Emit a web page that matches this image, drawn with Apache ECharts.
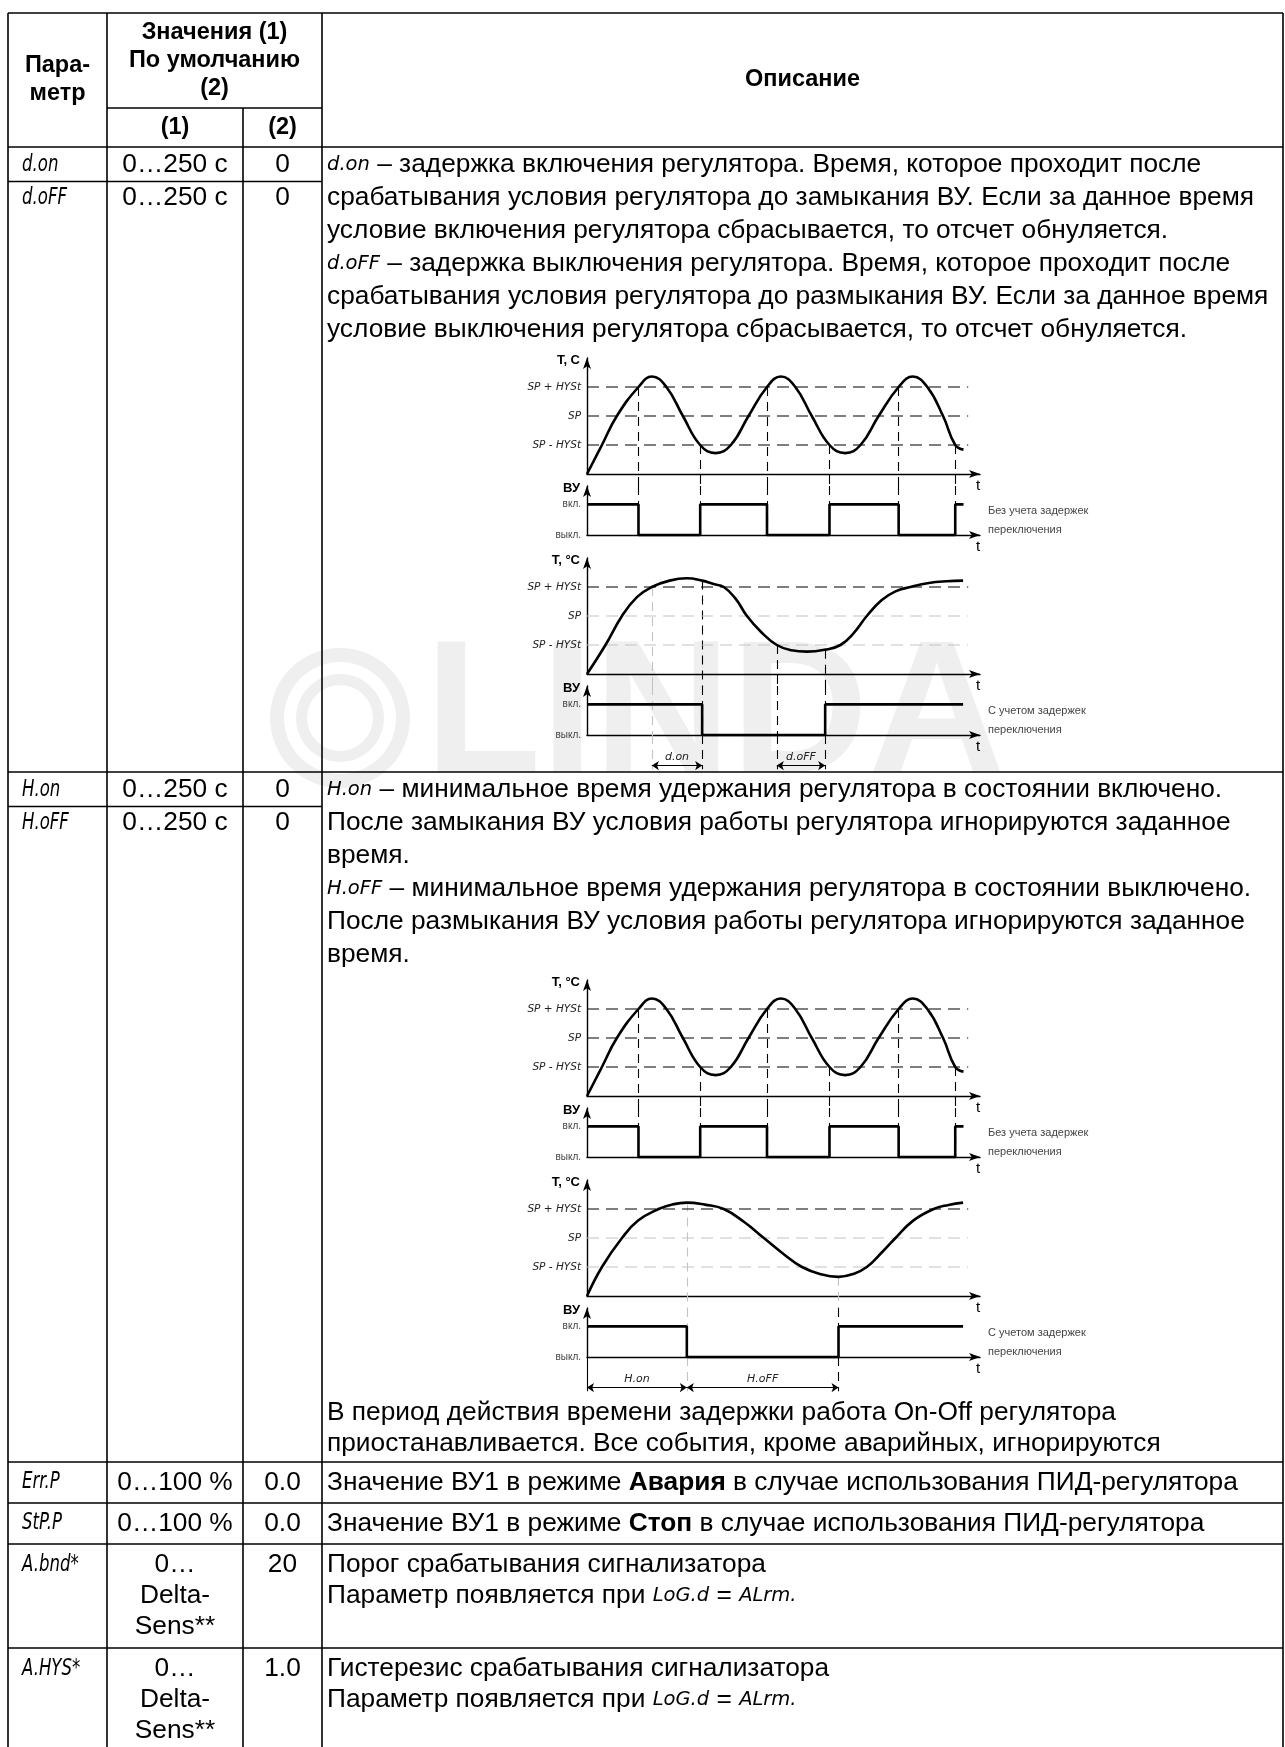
<!DOCTYPE html>
<html>
<head>
<meta charset="utf-8">
<title>d.on / d.oFF / H.on / H.oFF</title>
<script src="https://cdn.jsdelivr.net/npm/echarts@6.0.0/dist/echarts.min.js"></script>
<style>
html, body { margin: 0; padding: 0; background: #fff; }
#chart { width: 1285px; height: 1747px; }
</style>
</head>
<body>
<div id="chart"></div>
<script>
// ---- values ----
// temperature axis: 0 = t axis, 1 = SP-HYSt, 2 = SP, 3 = SP+HYSt ; time axis 0..100
var levelNames = {1: 'SP - HYSt', 2: 'SP', 3: 'SP + HYSt'};
var relayNames = {0: 'выкл.', 1: 'вкл.'};

// without switching delays (upper part of both pictures)
var tempFree = [[0, 0], [3.8, 1], [7.6, 2], [13.1, 3], [16.5, 3.36], [20.2, 3], [24.4, 2], [28.8, 1], [32.7, 0.72],
    [36.6, 1], [41.1, 2], [45.8, 3], [49.3, 3.36], [53, 3], [57.2, 2], [61.7, 1], [65.7, 0.72], [69.6, 1],
    [74.2, 2], [79.3, 3], [82.9, 3.36], [86.6, 3], [90.6, 2], [93.7, 1], [95.8, 0.84]];
var crossFree = [[13.1, 3], [28.8, 1], [45.8, 3], [61.7, 1], [79.3, 3], [93.7, 1]];
var relayFree = [[0, 1], [13.1, 1], [13.1, 0], [28.8, 0], [28.8, 1], [45.8, 1], [45.8, 0], [61.7, 0], [61.7, 1],
    [79.3, 1], [79.3, 0], [93.7, 0], [93.7, 1], [95.8, 1]];

// with d.on / d.oFF
var tempDelay = [[0, 0], [4.7, 1], [8.9, 2], [12.7, 2.65], [16.5, 3], [21, 3.22], [25.4, 3.3], [29.3, 3.22],
    [32.2, 3.1], [34.8, 3], [37.8, 2.6], [40.7, 2], [44.3, 1.45], [48.3, 1], [52, 0.82], [56, 0.77], [60.6, 0.84],
    [64.5, 1], [67.8, 1.4], [71.2, 2], [75, 2.55], [78.5, 2.85], [82.3, 3], [87, 3.14], [91.5, 3.2], [95.7, 3.22]];
var crossDelay = [[16.5, 3], [29.3, 3.22], [48.3, 1], [60.6, 0.84]];
var relayDelay = [[0, 1], [29.3, 1], [29.3, 0], [60.6, 0], [60.6, 1], [95.7, 1]];
var dimsDelay = [['d.on', 16.5, 29.3], ['d.oFF', 48.3, 60.6]];

// with H.on / H.oFF
var tempHold = [[0, 0], [3.8, 1], [8.9, 2], [13, 2.6], [18.2, 3], [21.8, 3.16], [25.4, 3.22], [30, 3.15], [34.8, 3],
    [40, 2.55], [45, 2], [50, 1.45], [54.7, 1], [59.5, 0.75], [64, 0.66], [67.8, 0.76], [71.2, 1], [75, 1.5],
    [78.5, 2], [83, 2.6], [88.2, 3], [92, 3.14], [95.7, 3.22]];
var crossHold = [[25.4, 3.22], [64, 0.66]];
var relayHold = [[0, 1], [25.4, 1], [25.4, 0], [64, 0], [64, 1], [95.7, 1]];
var dimsHold = [['H.on', 0, 25.4], ['H.oFF', 25.4, 64]];

// ---- table texts ----
var params = ['d.on', 'd.oFF', 'H.on', 'H.oFF', 'Err.P', 'StP.P', 'A.bnd*', 'A.HYS*'];
var ranges = [['0…250 с'], ['0…250 с'], ['0…250 с'], ['0…250 с'], ['0…100 %'], ['0…100 %'],
    ['0…', 'Delta-', 'Sens**'], ['0…', 'Delta-', 'Sens**']];
var defaults = ['0', '0', '0', '0', '0.0', '0.0', '20', '1.0'];
var desc1 = [
    '{s|d.on} – задержка включения регулятора. Время, которое проходит после',
    'срабатывания условия регулятора до замыкания ВУ. Если за данное время',
    'условие включения регулятора сбрасывается, то отсчет обнуляется.',
    '{s|d.oFF} – задержка выключения регулятора. Время, которое проходит после',
    'срабатывания условия регулятора до размыкания ВУ. Если за данное время',
    'условие выключения регулятора сбрасывается, то отсчет обнуляется.'];
var desc2 = [
    '{s|H.on} – минимальное время удержания регулятора в состоянии включено.',
    'После замыкания ВУ условия работы регулятора игнорируются заданное',
    'время.',
    '{s|H.oFF} – минимальное время удержания регулятора в состоянии выключено.',
    'После размыкания ВУ условия работы регулятора игнорируются заданное',
    'время.'];
var desc2tail = [
    'В период действия времени задержки работа On-Off регулятора',
    'приостанавливается. Все события, кроме аварийных, игнорируются'];
var descRest = [
    ['Значение ВУ1 в режиме {b|Авария} в случае использования ПИД-регулятора'],
    ['Значение ВУ1 в режиме {b|Стоп} в случае использования ПИД-регулятора'],
    ['Порог срабатывания сигнализатора', 'Параметр появляется при {s|LoG.d} = {s|ALrm.}'],
    ['Гистерезис срабатывания сигнализатора', 'Параметр появляется при {s|LoG.d} = {s|ALrm.}']];

var chart = echarts.init(document.getElementById('chart'));
var FONT = '"Liberation Sans", Arial, sans-serif';
var SEG = '"DejaVu Sans", sans-serif';
var INK = '#000', GREY = '#c4c4c4';
var FS = 26.3, P = 33, PR = 31;
var X0 = 587, XW = 393;
var L = 8, C1 = 107, C2 = 243, C3 = 322, R = 1283;

var RICH = {
    s: {fontFamily: SEG, fontStyle: 'italic', fontSize: 19.5, fill: INK},
    b: {fontFamily: FONT, fontWeight: 'bold', fontSize: FS, fill: INK}
};

var graphics = [], grids = [], xAxes = [], yAxes = [], series = [];

function T(x, y, text, o) {
    o = o || {};
    graphics.push({
        type: 'text', x: x, y: y, z: 10, silent: true, scaleX: o.sx || 1,
        style: {
            text: text, fill: o.fill || INK, fontFamily: o.ff || FONT, fontSize: o.fs || FS,
            fontWeight: o.fw || 'normal', fontStyle: o.fst || 'normal',
            align: o.align || 'left', verticalAlign: 'middle', rich: RICH
        }
    });
}
function H(x1, x2, y) {
    graphics.push({type: 'line', z: 9, silent: true, shape: {x1: x1, y1: y, x2: x2, y2: y},
        style: {stroke: INK, lineWidth: 1.6}});
}
function V(x, y1, y2) {
    graphics.push({type: 'line', z: 9, silent: true, shape: {x1: x, y1: y1, x2: x, y2: y2},
        style: {stroke: INK, lineWidth: 1.6}});
}

// watermark
graphics.push({type: 'ring', z: 0, silent: true, shape: {cx: 340, cy: 718, r: 70, r0: 56}, style: {fill: '#efefef'}});
graphics.push({type: 'ring', z: 0, silent: true, shape: {cx: 340, cy: 718, r: 44, r0: 33}, style: {fill: '#efefef'}});
graphics.push({type: 'text', z: 0, silent: true, x: 425, y: 720,
    style: {text: 'LINDA', fontFamily: FONT, fontWeight: 'bold', fontSize: 190, fill: '#efefef', verticalAlign: 'middle'}});

// table grid
var rowLine = {don: 181.5, hon: 772, hoff: 806.5, err: 1462, stp: 1503, abnd: 1544, ahys: 1648};
H(L, R, 13); H(C1, C3, 108); H(L, R, 147); H(L, C3, rowLine.don); H(L, R, rowLine.hon); H(L, C3, rowLine.hoff);
H(L, R, rowLine.err); H(L, R, rowLine.stp); H(L, R, rowLine.abnd); H(L, R, rowLine.ahys);
V(L, 13, 1747); V(C1, 13, 1747); V(C2, 108, 1747); V(C3, 13, 1747); V(R, 13, 1747);

// header
var hb = {fw: 'bold', fs: 23.5, align: 'center'};
T((L + C1) / 2, 66, 'Пара-', hb); T((L + C1) / 2, 94, 'метр', hb);
T((C1 + C3) / 2, 33, 'Значения (1)', hb); T((C1 + C3) / 2, 61, 'По умолчанию', hb); T((C1 + C3) / 2, 89, '(2)', hb);
T((C1 + C2) / 2, 127.5, '(1)', hb); T((C2 + C3) / 2, 127.5, '(2)', hb);
T((C3 + R) / 2, 80, 'Описание', hb);

// rows
var rowY = [165, 198, 790, 823, 1482.5, 1523.5, 1565, 1669];
params.forEach(function (p, i) {
    T(22, rowY[i], p, {ff: SEG, fst: 'italic', fs: 23, sx: 0.72});
    ranges[i].forEach(function (r, k) { T((C1 + C2) / 2, rowY[i] + k * PR, r, {align: 'center'}); });
    T((C2 + C3) / 2, rowY[i], defaults[i], {align: 'center'});
});
desc1.forEach(function (s, k) { T(327, 165 + k * P, s); });
desc2.forEach(function (s, k) { T(327, 790 + k * P, s); });
desc2tail.forEach(function (s, k) { T(327, 1413 + k * PR, s); });
descRest.forEach(function (lines, i) {
    lines.forEach(function (s, k) { T(327, rowY[4 + i] + k * PR, s); });
});

// ---- diagrams ----
var AX = {color: INK, width: 1.4};
var segLabel = {fontFamily: SEG, fontStyle: 'italic', fontSize: 10.5, color: '#222', margin: 6};
var relayLabel = {fontFamily: FONT, fontSize: 10, color: '#444', margin: 6};
var HT = 116, RT = 128, RH = 49, HALF = 200, DH = 36;

function addGrid(top, height, show, yName, yMax, names, lab) {
    var i = grids.length;
    grids.push({left: X0, top: top, width: XW, height: height, outerBoundsMode: 'none'});
    xAxes.push({
        gridIndex: i, type: 'value', min: 0, max: 100, show: show,
        axisLine: {onZero: false, lineStyle: AX, symbol: ['none', 'arrow'], symbolSize: [6, 11]},
        axisTick: {show: false}, axisLabel: {show: false}, splitLine: {show: false},
        name: show ? 't' : '', nameLocation: 'end', nameGap: -4,
        nameTextStyle: {fontFamily: FONT, fontSize: 15, color: INK, verticalAlign: 'top', padding: [4, 0, 0, 0]}
    });
    yAxes.push({
        gridIndex: i, type: 'value', min: 0, max: yMax, interval: 1, show: show,
        axisLine: {onZero: false, lineStyle: AX, symbol: ['none', 'arrow'], symbolSize: [6, 11]},
        axisTick: {show: false}, splitLine: {show: false},
        axisLabel: echarts.util.extend({
            show: !!names,
            formatter: function (v) { return (names && names[v]) || ''; }
        }, lab || {}),
        name: yName, nameLocation: 'end', nameGap: -2,
        nameTextStyle: {fontFamily: FONT, fontWeight: 'bold', fontSize: 13, color: INK,
            align: 'right', verticalAlign: 'middle', padding: [0, 7, 0, 0]}
    });
    return i;
}

function vlines(g, pts, y0, y1, greyIdx, solid) {
    series.push({
        type: 'lines', coordinateSystem: 'cartesian2d', xAxisIndex: g, yAxisIndex: g, clip: false, silent: true, z: 1,
        lineStyle: {width: 1.1, type: solid ? 'solid' : [9, 6], opacity: 1, curveness: 0},
        data: pts.map(function (p, i) {
            return {coords: [[p[0], y0 === null ? p[1] : y0], [p[0], y1]],
                lineStyle: {color: greyIdx.indexOf(i) >= 0 ? GREY : INK}};
        })
    });
}

function buildHalf(top, c) {
    var tg = addGrid(top, HT, true, c.tName, 4, levelNames, segLabel);
    var rg = addGrid(top + RT, RH, true, 'ВУ', 1.6, relayNames, relayLabel);
    [1, 2, 3].forEach(function (lv, k) {
        series.push({type: 'line', xAxisIndex: tg, yAxisIndex: tg, data: [[0, lv], [97, lv]], symbol: 'none',
            silent: true, z: 1, lineStyle: {color: c.levelColors[k], width: 1.2, type: [12, 7]}});
    });
    vlines(tg, c.cross, null, -0.45, c.greyTop);
    series.push({type: 'line', xAxisIndex: tg, yAxisIndex: tg, data: c.temp, smooth: 0.45, symbol: 'none',
        clip: false, silent: true, z: 3, lineStyle: {color: INK, width: 2.6}});
    vlines(rg, c.cross, 1.6, 0, c.greyLow);
    series.push({type: 'line', xAxisIndex: rg, yAxisIndex: rg, data: c.relay, symbol: 'none',
        clip: false, silent: true, z: 3, lineStyle: {color: INK, width: 2.6}});
    T(988, top + RT + 25, c.side[0], {fs: 11, fill: '#444'});
    T(988, top + RT + 44, c.side[1], {fs: 11, fill: '#444'});
    if (c.dims) {
        var dg = addGrid(top + RT + RH, DH, false, '', 1, null, null);
        vlines(dg, c.cross, 1, 0.05, c.greyLow);
        if (c.axisExt) vlines(dg, [[0, 1]], 1, 0.05, [], true);
        series.push({
            type: 'lines', coordinateSystem: 'cartesian2d', xAxisIndex: dg, yAxisIndex: dg, clip: false, silent: true, z: 2,
            symbol: ['arrow', 'arrow'], symbolSize: 7,
            lineStyle: {color: INK, width: 1.1, opacity: 1, curveness: 0},
            label: {show: true, position: 'insideMiddleTop', formatter: '{b}', distance: 3,
                fontFamily: SEG, fontStyle: 'italic', fontSize: 11, color: '#222'},
            data: c.dims.map(function (d) { return {name: d[0], coords: [[d[1], 0.15], [d[2], 0.15]]}; })
        });
    }
}

var pic1 = 358, pic2 = 980;
buildHalf(pic1, {temp: tempFree, cross: crossFree, relay: relayFree, tName: 'T, C',
    levelColors: [INK, INK, INK], greyTop: [], greyLow: [], side: ['Без учета задержек', 'переключения']});
buildHalf(pic1 + HALF, {temp: tempDelay, cross: crossDelay, relay: relayDelay, tName: 'T, °C',
    levelColors: [GREY, GREY, INK], greyTop: [0], greyLow: [0], side: ['С учетом задержек', 'переключения'],
    dims: dimsDelay});
buildHalf(pic2, {temp: tempFree, cross: crossFree, relay: relayFree, tName: 'T, °C',
    levelColors: [INK, INK, INK], greyTop: [], greyLow: [], side: ['Без учета задержек', 'переключения']});
buildHalf(pic2 + HALF, {temp: tempHold, cross: crossHold, relay: relayHold, tName: 'T, °C',
    levelColors: [GREY, GREY, INK], greyTop: [0, 1], greyLow: [0], side: ['С учетом задержек', 'переключения'],
    dims: dimsHold, axisExt: true});

chart.setOption({
    animation: false,
    backgroundColor: '#fff',
    grid: grids,
    xAxis: xAxes,
    yAxis: yAxes,
    series: series,
    graphic: graphics
});
</script>
</body>
</html>
